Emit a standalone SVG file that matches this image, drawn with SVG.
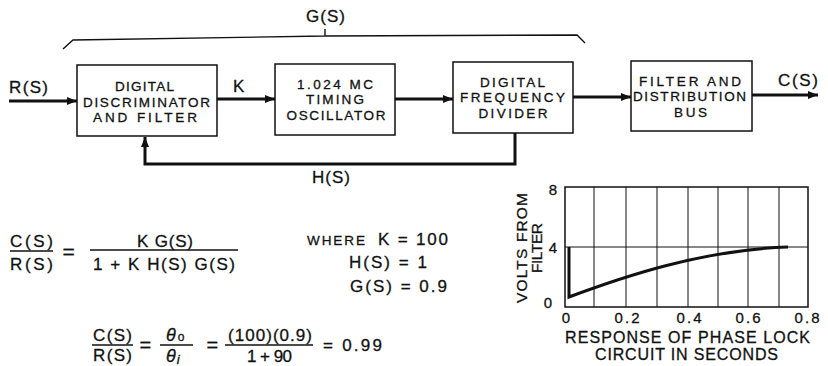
<svg xmlns="http://www.w3.org/2000/svg" width="828" height="366" viewBox="0 0 828 366">
<style>
text{font-family:"Liberation Sans",Arial,sans-serif;fill:#111;stroke:#111;stroke-width:0.3}
.bx{fill:#fff;stroke:#111;stroke-width:1.5}
.bt{font-size:13.5px;text-anchor:middle}
.lb{font-size:17px}
.eq{font-size:17px}
.ln{stroke:#111;stroke-width:3;fill:none}
.thin{stroke:#111;stroke-width:1.4;fill:none}
.grid{stroke:#111;stroke-width:1;fill:none}
.tk{font-size:15px;text-anchor:middle}
</style>
<defs>
<marker id="ah" viewBox="0 0 10 8" refX="10" refY="4" markerWidth="10" markerHeight="8" markerUnits="userSpaceOnUse" orient="auto">
<path d="M0,0 L10,4 L0,8 Z" fill="#111"/>
</marker>
</defs>
<rect width="828" height="366" fill="#fff"/>

<g id="bracket">
<path class="thin" d="M63,49 L73,40 L325,36 L577,35 L585,43 M325,36 V29"/>
<text class="lb" x="306" y="22" textLength="39">G(S)</text>
</g>

<g id="connectors">
<path class="ln" d="M9,101 H77" marker-end="url(#ah)"/>
<path class="ln" d="M217,99 H275" marker-end="url(#ah)"/>
<path class="ln" d="M395,99 H453" marker-end="url(#ah)"/>
<path class="ln" d="M573,97 H631" marker-end="url(#ah)"/>
<path class="ln" d="M752,95 H818" marker-end="url(#ah)"/>
<path class="ln" d="M515,133 V164 H145 V137" marker-end="url(#ah)"/>
<text class="lb" x="9" y="93" textLength="39">R(S)</text>
<text class="lb" x="233" y="92">K</text>
<text class="lb" x="778" y="86" textLength="40">C(S)</text>
<text class="lb" x="312" y="183" textLength="38">H(S)</text>
</g>

<g id="box1">
<rect class="bx" x="77" y="65" width="140" height="71"/>
<text class="bt" x="144.5" y="91" textLength="59">DIGITAL</text>
<text class="bt" x="146.5" y="106.5" textLength="127">DISCRIMINATOR</text>
<text class="bt" x="145" y="122" textLength="104">AND FILTER</text>
</g>
<g id="box2">
<rect class="bx" x="275" y="64" width="120" height="71"/>
<text class="bt" x="335" y="88.5" textLength="76">1.024 MC</text>
<text class="bt" x="335" y="104" textLength="58">TIMING</text>
<text class="bt" x="336" y="120" textLength="99">OSCILLATOR</text>
</g>
<g id="box3">
<rect class="bx" x="453" y="62" width="120" height="71"/>
<text class="bt" x="512.5" y="86.5" textLength="65">DIGITAL</text>
<text class="bt" x="512.5" y="102" textLength="105">FREQUENCY</text>
<text class="bt" x="513" y="118" textLength="69">DIVIDER</text>
</g>
<g id="box4">
<rect class="bx" x="631" y="61" width="121" height="70"/>
<text class="bt" x="690" y="85.5" textLength="102">FILTER AND</text>
<text class="bt" x="689.5" y="101" textLength="113">DISTRIBUTION</text>
<text class="bt" x="690.5" y="117" textLength="33">BUS</text>
</g>

<g id="equation1">
<text class="eq" x="10" y="247" textLength="43">C(S)</text>
<line class="thin" x1="10" y1="251" x2="53" y2="251"/>
<text class="eq" x="10" y="270" textLength="43">R(S)</text>
<text x="62.5" y="259" font-size="21" textLength="15">=</text>
<text class="eq" x="137" y="247" textLength="56">K G(S)</text>
<line class="thin" x1="90" y1="250" x2="238" y2="250"/>
<text class="eq" x="93" y="270" textLength="142">1 + K  H(S) G(S)</text>
</g>

<g id="constants">
<text x="307" y="245" font-size="13.5" textLength="58">WHERE</text>
<text class="eq" x="378" y="245" textLength="70">K = 100</text>
<text class="eq" x="349" y="268" textLength="78">H(S) = 1</text>
<text class="eq" x="350" y="292" textLength="97">G(S) = 0.9</text>
</g>

<g id="equation2">
<text class="eq" x="93" y="341" textLength="39">C(S)</text>
<line class="thin" x1="92" y1="345" x2="133" y2="345"/>
<text class="eq" x="93" y="361" textLength="39">R(S)</text>
<text x="139.5" y="352" font-size="20" textLength="14">=</text>
<text x="166" y="341" font-size="18" font-style="italic">θ<tspan font-size="12" font-style="normal" dx="2">o</tspan></text>
<line class="thin" x1="160" y1="345" x2="193" y2="345"/>
<text x="166" y="362" font-size="18" font-style="italic">θ<tspan font-size="13" dx="1" dy="2">i</tspan></text>
<text x="206.5" y="352" font-size="20" textLength="13">=</text>
<text class="eq" x="228" y="341" textLength="84">(100)(0.9)</text>
<line class="thin" x1="225" y1="345" x2="313" y2="345"/>
<text class="eq" x="247" y="362" textLength="45">1 + 90</text>
<text class="eq" x="323" y="351" textLength="59">= 0.99</text>
</g>

<g id="chart">
<rect x="565" y="187" width="243" height="120" fill="none" stroke="#111" stroke-width="1.5"/>
<path class="grid" d="M594,187V307M626,187V307M657,187V307M688,187V307M718,187V307M748,187V307M779,187V307M565,247H808"/>
<path d="M569,247 V297 C620,278 700,250 788,247" fill="none" stroke="#111" stroke-width="3"/>
<text class="tk" x="553" y="195">8</text>
<text class="tk" x="553" y="253">4</text>
<text class="tk" x="548" y="308">0</text>
<text class="tk" x="566" y="323">0</text>
<text class="tk" x="627" y="323" textLength="25">0.2</text>
<text class="tk" x="689" y="323" textLength="25">0.4</text>
<text class="tk" x="748" y="323" textLength="25">0.6</text>
<text class="tk" x="807" y="323" textLength="25">0.8</text>
<text x="565" y="343" font-size="16" textLength="245">RESPONSE OF PHASE LOCK</text>
<text x="595" y="360" font-size="16" textLength="183">CIRCUIT IN SECONDS</text>
<text transform="translate(527,248) rotate(-90)" font-size="15.5" text-anchor="middle" textLength="110">VOLTS FROM</text>
<text transform="translate(542,248) rotate(-90)" font-size="15.5" text-anchor="middle" textLength="50">FILTER</text>
</g>
</svg>
